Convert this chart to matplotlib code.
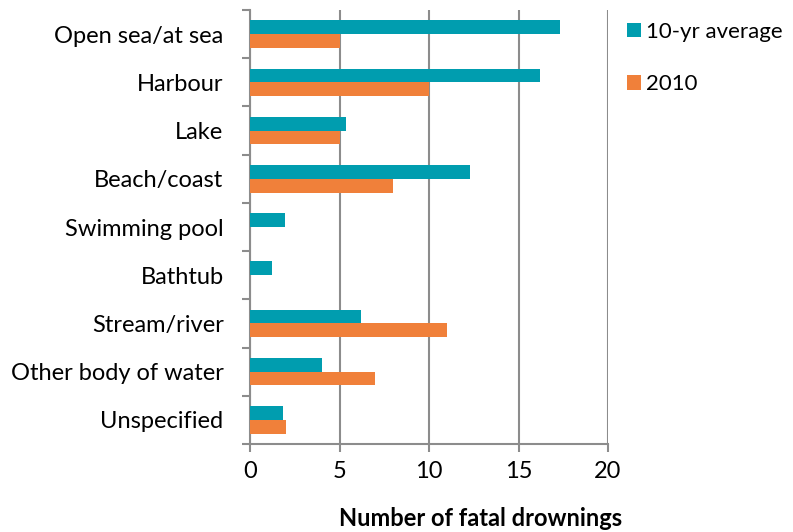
import matplotlib
matplotlib.use("Agg")
import matplotlib.pyplot as plt
import numpy as np
from matplotlib.ticker import FixedLocator

categories = ["Open sea/at sea", "Harbour", "Lake", "Beach/coast", "Swimming pool",
              "Bathtub", "Stream/river", "Other body of water", "Unspecified"]
avg10 = [17.3, 16.2, 5.35, 12.3, 1.95, 1.25, 6.2, 4.0, 1.85]
y2010 = [5, 10, 5, 8, 0, 0, 11, 7, 2]
series_names = ["10-yr average", "2010"]
xticks = [0, 5, 10, 15, 20]

teal = "#009daf"
orange = "#f0803a"
grey = "#8c8c8c"

plt.rcParams['font.family'] = ['Lato', 'DejaVu Sans']
FS = 17

fig = plt.figure(figsize=(7.93, 5.32), dpi=100)
ax = fig.add_axes([250/793, 1 - 444/532, (608-250)/793, 434/532])

n = len(categories)
pos = np.arange(n)
h = 0.285
ax.barh(pos - h/2, avg10, height=h, color=teal, label=series_names[0], zorder=3)
ax.barh(pos + h/2, y2010, height=h, color=orange, label=series_names[1], zorder=3)

ax.set_ylim(n - 0.5, -0.5)
ax.set_xlim(0, 20)
ax.set_yticks(pos)
ax.set_yticklabels(categories, fontsize=FS)
ax.yaxis.set_minor_locator(FixedLocator(np.arange(-0.5, n, 1)))
ax.tick_params(axis='y', which='major', length=0, pad=19)
ax.tick_params(axis='y', which='minor', length=6, width=1.5, color=grey, direction='out')

ax.set_xticks(xticks)
ax.set_xticklabels([str(t) for t in xticks], fontsize=FS)
ax.tick_params(axis='x', length=6, width=1.5, color=grey, direction='out', pad=6)

ax.grid(axis='x', color=grey, linewidth=1.5, zorder=0)
for s in ['top', 'right']:
    ax.spines[s].set_visible(False)
for s in ['left', 'bottom']:
    ax.spines[s].set_color(grey)
    ax.spines[s].set_linewidth(1.5)

fig.text(481/793, 1 - 518/532, "Number of fatal drownings", ha='center', va='center',
         fontsize=FS, fontweight='bold')

leg = fig.legend(loc='upper left', bbox_to_anchor=(627/793, 1 - 22/532), frameon=False,
                 fontsize=16, handlelength=0.62, handleheight=0.62, handletextpad=0.25,
                 labelspacing=1.45, borderaxespad=0, borderpad=0)

fig.savefig("out.png", dpi=100)
